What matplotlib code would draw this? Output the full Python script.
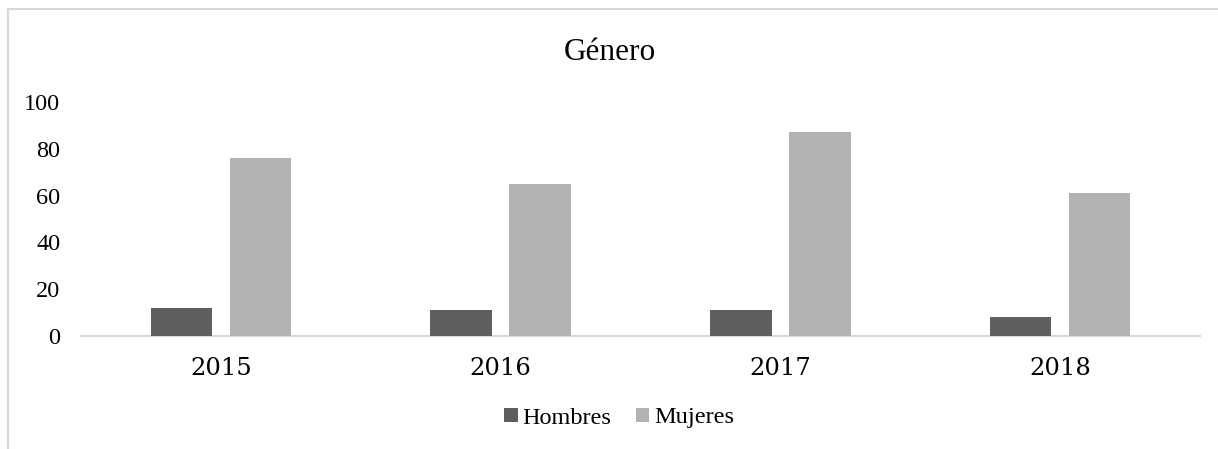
import matplotlib
matplotlib.use("Agg")
import matplotlib.pyplot as plt
import numpy as np
from matplotlib.patches import Rectangle

years = ["2015", "2016", "2017", "2018"]
hombres = [12, 11, 11, 8]
mujeres = [76, 65, 87, 61]
yticks = [0, 20, 40, 60, 80, 100]

W, H = 1218, 449
fig = plt.figure(figsize=(W / 100, H / 100), dpi=100)
ax = fig.add_axes([81 / W, 1 - 336 / H, (1200 - 81) / W, (336 - 102) / H])

x = np.arange(len(years))
bw = 0.22
off = 0.141
ax.bar(x - off, hombres, bw, color="#5f5f5f", label="Hombres", zorder=3)
ax.bar(x + off, mujeres, bw, color="#b2b2b2", label="Mujeres", zorder=3)

ax.set_xlim(-0.5, len(years) - 0.5)
ax.set_ylim(0, 100)
ax.set_yticks(yticks)
ax.set_yticklabels([str(v) for v in yticks], fontfamily="Liberation Serif", fontsize=17.5)
ax.set_xticks(x)
ax.set_xticklabels(years, fontfamily="DejaVu Serif", fontsize=17.5)
ax.tick_params(axis="both", length=0)
ax.tick_params(axis="y", pad=15)
ax.tick_params(axis="x", pad=15)
for s in ["top", "right", "left"]:
    ax.spines[s].set_visible(False)
ax.spines["bottom"].set_color("#d9d9d9")
ax.spines["bottom"].set_linewidth(1.5)

fig.text(610 / W, 1 - 52 / H, "Género", ha="center", va="center",
         fontfamily="Liberation Serif", fontsize=22.5)

leg = fig.legend(loc="center", bbox_to_anchor=(619 / W, 1 - 418 / H), ncol=2,
                 frameon=False, prop={"family": "Liberation Serif", "size": 17.5},
                 handlelength=0.55, handleheight=0.55, handletextpad=0.2,
                 columnspacing=1.0)

fig.patches.append(Rectangle((8 / W, -0.05), 1.2, (H - 9) / H + 0.05,
                             transform=fig.transFigure, fill=False,
                             edgecolor="#d9d9d9", linewidth=1.5))

fig.savefig("out.png", dpi=100)
